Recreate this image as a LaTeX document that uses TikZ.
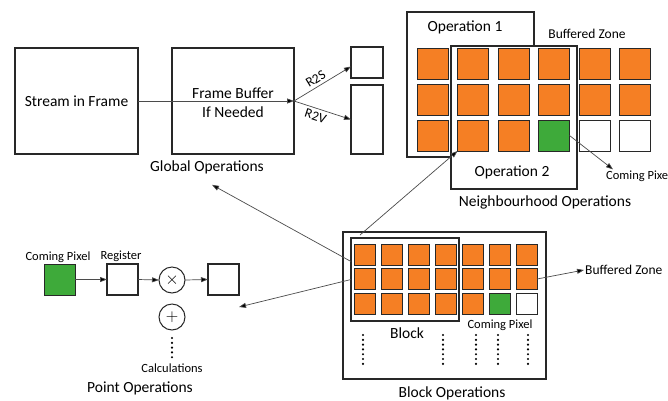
\documentclass[tikz,border=0pt]{standalone}
\usepackage{fontspec}
\setmainfont{Carlito}
\usetikzlibrary{arrows.meta,calc,positioning}
\definecolor{pixorange}{RGB}{245,127,36}
\definecolor{pixgreen}{RGB}{62,170,58}
\definecolor{edge}{RGB}{40,40,40}
\definecolor{wire}{RGB}{75,75,75}

\begin{document}
\begin{tikzpicture}[x=1pt,y=-1pt,
  box/.style={draw=edge, line width=1.1pt, fill=white, inner sep=0pt, outer sep=0pt},
  bigpix/.style={draw=edge, line width=0.9pt, inner sep=0pt, outer sep=0pt, minimum size=31},
  smallpix/.style={draw=edge, line width=0.9pt, inner sep=0pt, outer sep=0pt, minimum size=21},
  lbl/.style={font=\fontsize{15.5}{18}\selectfont, inner sep=1pt},
  mid/.style={font=\fontsize{13.5}{16}\selectfont, inner sep=1pt},
  tiny/.style={font=\fontsize{12.5}{14}\selectfont, inner sep=1pt},
  wire/.style={draw=wire, line width=0.7pt, -{Triangle[length=7pt,width=5pt,fill=black]}},
  dots/.style={line width=2.4pt, line cap=round, dash pattern=on 0pt off 4.8pt},
  op/.style={circle, draw=edge, line width=1pt, fill=white, minimum size=26, inner sep=0pt,
     outer sep=0pt, font=\fontsize{18}{18}\selectfont}]
\useasboundingbox (0,0) rectangle (668,400);
\fill[white] (0,0) rectangle (668,400);
% global operations
\node[box, lbl, minimum width=123, minimum height=106] (sif) at (76.5,101) {Stream in Frame};
\node[box, minimum width=122, minimum height=106] (fb) at (233,101) {};
\node[lbl] (fbtop) at (233,93)  {Frame Buffer};
\node[lbl] (fbbot) at (233,112) {If Needed};
\node[box, minimum width=32, minimum height=31] (r2s) at (367,62.5)  {};
\node[box, minimum width=32, minimum height=69] (r2v) at (367,119.5) {};
\node[lbl] (glob) at (207,167) {Global Operations};
\draw[wire] (sif.east) -- (fb.east);
\draw[wire] (fb.east) -- node[mid, sloped, above=2pt, pos=0.45] {R2S} ([yshift=-4]r2s.west);
\draw[wire] (fb.east) -- node[mid, sloped, below=2pt, pos=0.42] {R2V} (r2v.west);
% neighbourhood operations
\node[box, minimum width=127, minimum height=145] (op1) at (470.5,84.5) {};
\node[lbl] (op1lbl) at (465,27) {Operation 1};
\node[box, minimum width=126, minimum height=143] (op2) at (514,117.5) {};
\foreach \c in {1,...,6}
  \foreach \r in {1,2}
    \node[bigpix, fill=pixorange] (n-\c-\r) at ({392+40.5*\c},{27.5+36*\r}) {};
\foreach \c/\f in {1/pixorange,2/pixorange,3/pixorange,4/pixgreen,5/white,6/white}
  \node[bigpix, fill=\f] (n-\c-3) at ({392+40.5*\c},135.5) {};
\node[lbl] (op2lbl) at (512,172) {Operation 2};
\node[mid] (nbz) at (587,34) {Buffered Zone};
\node[lbl] (nbh) at (545,202) {Neighbourhood Operations};
\node[tiny, anchor=west] (ncp) at (605,176) {Coming Pixel};
\draw[wire] (n-4-3.east) -- ([xshift=8]ncp.north west);
% point operations
\node[bigpix, fill=pixgreen] (pin) at (59.5,279.5) {};
\node[box, minimum size=31] (reg) at (122.5,279.5) {};
\node[op] (mul) at (172,280) {$\times$};
\node[box, minimum size=31] (pout) at (223.5,279.5) {};
\node[op] (add) at (172,317) {$+$};
\node[tiny] (pinlbl) at (58,257) {Coming Pixel};
\node[tiny] (reglbl) at (121,256) {Register};
\node[tiny] (calc) at (172,368) {Calculations};
\node[lbl] (pts) at (140,388) {Point Operations};
\coordinate (ptip) at (239,307);
\draw[wire] (pin.east) -- (reg.west);
\draw[wire] (reg.east) -- (mul.west);
\draw[wire] (mul.east) -- (pout.west);
\draw[dots] (172,338) -- (172,358);
% block operations
\node[box, minimum width=203, minimum height=147] (bo) at (444.5,305.5) {};
\foreach \c in {1,...,7}
  \foreach \r in {1,2}
    \node[smallpix, fill=pixorange] (b-\c-\r) at ({337.5+27*\c},{230+24.5*\r}) {};
\foreach \c/\f in {1/pixorange,2/pixorange,3/pixorange,4/pixorange,5/pixorange,6/pixgreen,7/white}
  \node[smallpix, fill=\f] (b-\c-3) at ({337.5+27*\c},303.5) {};
\node[draw=edge, line width=1.1pt, minimum width=108, minimum height=83, inner sep=0pt, outer sep=0pt] (blk) at (405,279.5) {};
\node[lbl] (blklbl) at (407,333) {Block};
\node[tiny] (bcp) at (500,325) {Coming Pixel};
\node[lbl] (bops) at (452,393) {Block Operations};
\node[mid, anchor=west] (bbz) at (584,270) {Buffered Zone};
\foreach \x in {363,443,476,498,528}
  \draw[dots] (\x,335) -- (\x,365);
\draw[wire] (b-7-2.east) -- (bbz.west);
\draw[wire] ([yshift=18]blk.west) -- ([xshift=5,yshift=-10]glob.south);
\draw[wire] (blk.west) -- (ptip);
\draw[wire] ([xshift=9,yshift=3]blk.north west) -- (n-2-3.south west);
\end{tikzpicture}
\end{document}
